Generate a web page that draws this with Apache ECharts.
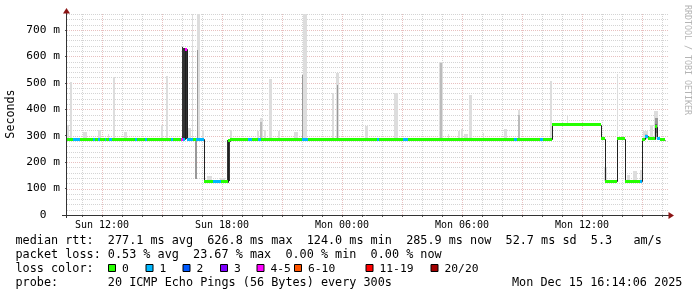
<!DOCTYPE html>
<html><head><meta charset="utf-8">
<script src="https://cdn.jsdelivr.net/npm/echarts@6/dist/echarts.min.js"></script>
<style>html,body{margin:0;padding:0;background:#fff}#c{width:697px;height:297px}</style>
</head><body><div id="c"></div>
<script>
// time axis in hours since Sun 00:00
const xMin = 10.25, xMax = 40.25;
const xTickHours = [12, 18, 24, 30, 36];
const xTickLabels = ['Sun 12:00', 'Sun 18:00', 'Mon 00:00', 'Mon 06:00', 'Mon 12:00'];
const yTickValues = [0, 100, 200, 300, 400, 500, 600, 700];
const yTickLabels = ['0  ', '100 m', '200 m', '300 m', '400 m', '500 m', '600 m', '700 m'];
const yMax = 760;

// median rtt (ms) per segment start (hours) and loss-colour class
const medStart = [10.25,10.53,10.90,11.57,11.67,11.82,11.92,12.15,12.22,12.33,12.50,13.67,13.77,14.17,14.27,15.45,15.55,15.95,16.03,16.15,16.27,16.55,16.70,17.12,17.53,17.95,18.29,18.40,19.30,19.50,19.80,19.95,22.00,22.28,25.74,25.87,27.05,27.28,32.60,32.74,33.90,34.05,34.52,36.97,37.13,37.73,38.13,38.90,39.02,39.15,39.29,39.64,39.77,39.88];
const medValue = [287,287,287,287,287,287,287,287,287,287,287,287,287,287,287,287,287,287,287,627,287,287,287,126,126,126,280,287,287,287,287,287,287,287,287,287,287,287,287,287,287,287,342,288,127,289,127,127,287,297,288,333,291,285];
const medLoss  = [0,1,0,1,0,1,0,1,0,1,0,1,0,1,0,1,0,4,1,4,1,0,1,0,1,0,0,0,1,0,1,0,1,0,1,0,1,0,1,0,1,0,0,0,0,0,0,1,0,1,0,0,1,0];
const medEnd = 40.15;

// smoke (ping spread) bars
const smokeStart = [10.25,10.40,11.04,11.79,12.29,12.54,13.12,14.95,15.20,15.99,16.07,16.28,16.49,16.74,16.74,16.67,17.00,17.24,17.90,18.24,18.40,19.75,19.89,19.92,20.10,20.37,20.79,21.62,22.03,22.00,23.49,23.70,23.74,25.15,26.62,28.87,28.90,29.29,29.79,29.95,30.12,30.37,31.04,32.12,32.79,32.82,34.40,35.24,37.12,37.74,38.25,38.54,38.90,39.07,39.15,39.40,39.62,39.65,39.67];
const smokeEnd   = [10.33,10.50,11.24,11.95,12.37,12.67,13.24,15.04,15.30,16.04,16.27,16.45,16.57,16.92,16.82,16.75,17.08,17.49,18.15,18.39,18.50,19.84,20.04,20.00,20.20,20.50,20.90,21.79,22.25,22.07,23.59,23.84,23.80,25.29,26.79,29.04,29.00,29.37,29.90,30.07,30.29,30.50,31.12,32.24,32.90,32.89,34.50,35.32,37.25,37.82,38.40,38.74,39.00,39.29,39.23,39.57,39.82,39.78,39.75];
const smokeLow   = [289,289,289,289,289,289,289,289,289,289,289,289,289,289,289,136,289,128,128,128,289,289,289,289,289,289,289,289,289,289,289,289,289,289,289,289,289,289,289,289,289,289,289,289,289,289,289,343,128,290,128,128,128,289,289,289,289,295,310];
const smokeHigh  = [340,503,314,320,305,520,314,339,524,636,630,330,760,760,624,285,320,147,140,283,321,317,365,350,322,514,318,314,760,530,461,537,493,335,460,580,575,308,317,325,305,452,310,326,398,380,508,375,180,533,152,165,170,316,305,341,392,365,345];
const smokeShade = [0,0,0,0,0,0,0,0,0,4,4,0,0,0,2,2,0,0,0,4,0,0,0,1,0,0,0,0,0,2,0,0,2,0,0,0,1,0,0,0,0,0,0,0,0,1,0,0,0,0,0,0,0,0,1,0,0,2,3];

const lossLabels = ['0', '1', '2', '3', '4-5', '6-10', '11-19', '20/20'];
const legendLines = [
  'median rtt:  277.1 ms avg  626.8 ms max  124.0 ms min  285.9 ms now  52.7 ms sd  5.3   am/s',
  'packet loss: 0.53 % avg  23.67 % max  0.00 % min  0.00 % now',
  'loss color:',
  'probe:       20 ICMP Echo Pings (56 Bytes) every 300s'
];
const stampText = 'Mon Dec 15 16:14:06 2025';
const yName = 'Seconds';
const watermark = 'RRDTOOL / TOBI OETIKER';

// styles
const lossColors = ['#26ff00', '#00b8ff', '#0059ff', '#7e00ff', '#ff00ff', '#ff5500', '#ff0000', '#a00000'];
const shades = ['#dddddd', '#bbbbbb', '#999999', '#666666', '#333333'];
const MONO = 'DejaVu Sans Mono';
const minorGrid = '#d4d4d4', majorGrid = '#e8c0c0';

// build data
const smokeData = smokeStart.map((s, i) => [s, smokeEnd[i], smokeLow[i], smokeHigh[i], smokeShade[i]]);
const bandData = medStart.map((s, i) => [s, i + 1 < medStart.length ? medStart[i + 1] : medEnd, medValue[i], medLoss[i]]);
const lineData = bandData.map((d, i) => [d[0], d[1], d[2], i > 0 ? medValue[i - 1] : d[2]]);
const gridData = [];
for (let h = 11; h <= 40; h++) gridData.push([0, h, h % 3 === 0 ? 1 : 0]);
for (let v = 20; v <= yMax; v += 20) gridData.push([1, v, v % 100 === 0 ? 1 : 0]);
const hourTicks = [];
for (let h = 11; h <= 40; h++) hourTicks.push(h);

const chart = echarts.init(document.getElementById('c'), null, {renderer: 'canvas'});

const LINE0 = 240.6, LSTEP = 14.15;
const graphic = [];
legendLines.forEach((t, i) => {
  graphic.push({type: 'text', x: 15.5, y: LINE0 + i * LSTEP,
    style: {text: t, fontFamily: MONO, fontSize: 11.8, fill: '#000', align: 'left', verticalAlign: 'middle'}});
});
graphic.push({type: 'text', x: 512, y: LINE0 + 3 * LSTEP,
  style: {text: stampText, fontFamily: MONO, fontSize: 11.8, fill: '#000', align: 'left', verticalAlign: 'middle'}});
const boxX = [108, 145.5, 182.5, 220, 256.5, 294, 365.5, 430.5];
lossLabels.forEach((lab, i) => {
  graphic.push({type: 'rect', shape: {x: boxX[i] + 0.5, y: 264.5, width: 7, height: 7},
    style: {fill: lossColors[i], stroke: '#000', lineWidth: 1}});
  graphic.push({type: 'text', x: boxX[i] + 14, y: LINE0 + 2 * LSTEP,
    style: {text: lab, fontFamily: MONO, fontSize: 11.3, fill: '#000', align: 'left', verticalAlign: 'middle'}});
});
graphic.push({type: 'text', x: 11, y: 114, rotation: Math.PI / 2,
  style: {text: yName, fontFamily: MONO, fontSize: 11.7, fill: '#000', align: 'center', verticalAlign: 'middle'}});
graphic.push({type: 'text', x: 687.5, y: 5, rotation: -Math.PI / 2,
  style: {text: watermark, fontFamily: MONO, fontSize: 8.3, fill: '#b4b4b4', align: 'left', verticalAlign: 'middle'}});
// axis lines and arrows
graphic.push({type: 'line', shape: {x1: 66.5, y1: 13, x2: 66.5, y2: 218}, style: {stroke: '#333', lineWidth: 1}, z: 50});
graphic.push({type: 'line', shape: {x1: 62, y1: 215.5, x2: 669, y2: 215.5}, style: {stroke: '#333', lineWidth: 1}, z: 50});
graphic.push({type: 'polygon', shape: {points: [[66.5, 8], [63, 13.5], [70, 13.5]]}, style: {fill: '#8b1414'}, z: 51});
graphic.push({type: 'polygon', shape: {points: [[674, 215.5], [668.5, 212], [668.5, 219]]}, style: {fill: '#8b1414'}, z: 51});

function snap(v) { return Math.round(v); }

chart.setOption({
  animation: false,
  backgroundColor: '#ffffff',
  grid: {left: 67, top: 14, width: 600, height: 201, containLabel: false},
  xAxis: {
    type: 'value', min: xMin, max: xMax,
    axisLine: {show: false},
    splitLine: {show: false},
    axisTick: {show: true, customValues: hourTicks, length: 2, lineStyle: {color: '#555'}},
    axisLabel: {customValues: xTickHours, formatter: v => xTickLabels[xTickHours.indexOf(v)],
      fontFamily: MONO, fontSize: 10, color: '#000', margin: 5}
  },
  yAxis: {
    type: 'value', min: 0, max: yMax,
    axisLine: {show: false},
    splitLine: {show: false},
    axisTick: {show: true, customValues: yTickValues, length: 2, lineStyle: {color: '#555'}},
    axisLabel: {customValues: yTickValues, formatter: v => yTickLabels[yTickValues.indexOf(v)],
      fontFamily: MONO, fontSize: 11.2, color: '#000', margin: 7}
  },
  graphic: graphic,
  series: [
    {
      type: 'custom', name: 'grid', z: 1, silent: true,
      data: gridData,
      renderItem: (params, api) => {
        const cs = params.coordSys;
        const kind = api.value(0), v = api.value(1), major = api.value(2);
        const stroke = major ? majorGrid : minorGrid;
        if (kind === 0) {
          const x = snap(api.coord([v, 0])[0]) + 0.5;
          return {type: 'line', shape: {x1: x, y1: cs.y, x2: x, y2: cs.y + cs.height},
            style: {stroke: stroke, lineWidth: 1, lineDash: [1, 1]}};
        }
        const y = snap(api.coord([xMin, v])[1]) + 0.5;
        return {type: 'line', shape: {x1: cs.x, y1: y, x2: cs.x + cs.width + 1, y2: y},
          style: {stroke: stroke, lineWidth: 1, lineDash: [1, 1]}};
      }
    },
    {
      type: 'custom', name: 'smoke', z: 2, silent: true,
      data: smokeData,
      renderItem: (params, api) => {
        const a = api.coord([api.value(0), api.value(3)]);
        const b = api.coord([api.value(1), api.value(2)]);
        const x0 = snap(a[0]); const x1 = Math.max(snap(b[0]), x0 + 1);
        const y0 = snap(a[1]); const y1 = snap(b[1]);
        return {type: 'rect', shape: {x: x0, y: y0, width: x1 - x0, height: y1 - y0},
          style: {fill: shades[api.value(4)]}};
      }
    },
    {
      type: 'custom', name: 'median line', z: 3, silent: true,
      data: lineData,
      renderItem: (params, api) => {
        const p0 = api.coord([api.value(0), api.value(3)]);
        const p1 = api.coord([api.value(0), api.value(2)]);
        const p2 = api.coord([api.value(1), api.value(2)]);
        const x0 = snap(p0[0]) + 0.5, x1 = snap(p2[0]) + 0.5;
        return {type: 'polyline', shape: {points: [[x0, snap(p0[1]) + 0.5], [x0, snap(p1[1]) + 0.5], [x1, snap(p2[1]) + 0.5]]},
          style: {stroke: '#202020', lineWidth: 1, fill: null}};
      }
    },
    {
      type: 'custom', name: 'median', z: 4, silent: true,
      data: bandData,
      renderItem: (params, api) => {
        const a = api.coord([api.value(0), api.value(2)]);
        const b = api.coord([api.value(1), api.value(2)]);
        const x0 = snap(a[0]); const x1 = Math.max(snap(b[0]), x0 + 1);
        const yc = snap(a[1] - 1.5);
        return {type: 'rect', shape: {x: x0, y: yc, width: x1 - x0, height: 3},
          style: {fill: lossColors[api.value(3)]}};
      }
    }
  ]
});
</script>
</body></html>
